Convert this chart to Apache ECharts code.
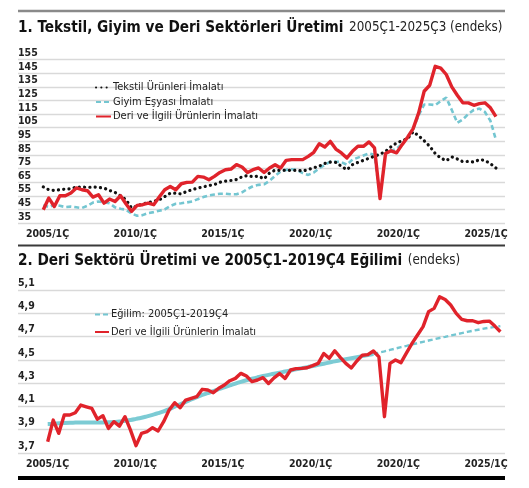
<!DOCTYPE html>
<html>
<head>
<meta charset="utf-8">
<script src="https://cdn.jsdelivr.net/npm/echarts@6/dist/echarts.min.js"></script>
<style>
html,body{margin:0;padding:0;background:#fff;}
#chart{width:529px;height:488px;}
</style>
</head>
<body>
<div id="chart"></div>
<script>
// ---- categories (quarters 2005Ç1 .. 2025Ç3) ----
const quarters = [];
for (let y = 2005; y <= 2025; y++) for (let q = 1; q <= 4; q++) { if (y === 2025 && q > 3) break; quarters.push(y + 'Ç' + q); }

// ---- tick labels shown under both panels (as printed in the original) ----
const xTickLabels = ['2005/1Ç', '2010/1Ç', '2015/1Ç', '2020/1Ç', '2020/1Ç', '2025/1Ç'];

// ---- Panel 1 series (index) ----
const tekstil = [61.5,59.4,58.9,59.4,59.9,60.1,61.4,61.4,61.1,61.4,61.1,60.6,58.9,57.4,55,52,46,47.5,49,50,51,52,54.4,56.9,56.9,56.3,58.2,59.5,60.7,61.5,62.5,63.2,64.9,65.7,66.2,66.9,68.9,69.9,68.9,69.4,67.4,71.8,73.8,73.5,73.8,73.5,73.8,73.1,74.3,75.5,76.8,78.7,79.7,79.5,76.6,74.1,77.8,79.5,81,82.5,84,85.5,87.6,91,93.7,95.4,96.9,102,99,95.4,91.3,86,82.7,80.7,83.5,82,80,80.2,79.7,81.5,81,78.5,75.3];
const giyim = [48,46.7,48.4,47.6,46.7,47,46.5,46,47.6,50,50.8,50.1,49.5,46.5,45.5,44.7,42,40.3,40.8,42.3,43,44,45,47.5,49.1,49.5,50.1,50.8,52.5,54,55.2,55.9,56.5,56.5,56.1,56.1,57.5,60,62,63,63.4,66,69.6,72.8,74,74.5,74,71.6,70.3,72,75.2,77.7,80.1,80,79.7,77.8,81.5,83,84.5,86,85,54,86,88,89.5,93,98,104,114,122,122,121.5,124.5,127,118,108.5,111,115,118,119,116.5,110,96];
const deri = [44.7,53.3,47.1,55,55,57,60.7,59.4,58.7,54,55.7,49.6,52.6,50.8,55,48.9,43.5,47.9,48.4,49.6,48.4,54,59.4,61.8,59.4,63.8,64.8,65,69.2,68.7,66.8,69.2,72.1,74.1,74.6,77.8,76.1,72.1,74.1,75.4,72.1,75.4,77.8,75.4,81,81.5,81.5,81.5,83.9,86.9,93.2,90.8,94.9,89.3,86.4,82.7,87.6,91.3,91.3,94.5,90.1,53,86,88,86.5,92.5,98,104.3,115.8,131.7,136.1,150,148.7,144,134.9,128.8,123.2,123.2,121.4,122.6,123.2,119.5,113];

// ---- Panel 2 series (log index) ----
const deriLog = [3.797,3.983,3.869,4.026,4.026,4.046,4.112,4.097,4.083,3.991,4.02,3.911,3.969,3.931,4.012,3.897,3.763,3.869,3.883,3.917,3.889,3.969,4.069,4.132,4.089,4.155,4.17,4.184,4.247,4.241,4.218,4.256,4.284,4.321,4.341,4.384,4.361,4.313,4.327,4.347,4.297,4.345,4.382,4.34,4.413,4.425,4.427,4.432,4.45,4.47,4.555,4.513,4.578,4.522,4.47,4.43,4.49,4.54,4.545,4.576,4.525,4.012,4.47,4.499,4.476,4.56,4.642,4.713,4.785,4.914,4.942,5.042,5.019,4.971,4.899,4.848,4.836,4.836,4.819,4.83,4.833,4.79,4.742];
// trend fitted over 2005Ç1-2019Ç4 (index 0..59)
const trendFit = [3.950,3.952,3.955,3.958,3.960,3.961,3.962,3.962,3.962,3.962,3.963,3.964,3.966,3.970,3.977,3.984,3.993,4.003,4.015,4.028,4.042,4.058,4.077,4.098,4.118,4.139,4.160,4.180,4.199,4.215,4.231,4.248,4.264,4.280,4.296,4.311,4.325,4.338,4.350,4.361,4.371,4.381,4.390,4.400,4.409,4.418,4.428,4.437,4.447,4.457,4.467,4.477,4.487,4.496,4.505,4.514,4.523,4.532,4.541,4.550];
// trend extension 2019Ç4 .. 2025Ç3 (index 59..82)
const trendExt = [4.550,4.562,4.573,4.585,4.597,4.609,4.620,4.632,4.644,4.655,4.666,4.677,4.688,4.698,4.709,4.719,4.730,4.740,4.750,4.759,4.768,4.776,4.783,4.790];

const FONT = "'Liberation Sans Narrow','DejaVu Sans Condensed','Roboto Condensed',sans-serif";
const RED = '#e0232b', CYAN = '#74c6d1', BLACK = '#111111', GRID = '#d9d9d9';

const pairs = (arr, off) => arr.map((v, i) => [i + (off || 0), v]);

const chart = echarts.init(document.getElementById('chart'), null, {renderer: 'canvas'});

const labelAxis = (gi) => ({
  type: 'category', gridIndex: gi, data: xTickLabels, boundaryGap: false,
  axisLine: {show: false}, axisTick: {show: false}, splitLine: {show: false},
  axisLabel: {show: true, interval: 0, margin: 6, color: '#222', fontFamily: FONT, fontWeight: 'bold', fontSize: 10.5}
});
const hiddenY = (gi) => ({type: 'value', gridIndex: gi, show: false});

const titleRich = {
  b: {fontFamily: FONT, fontWeight: 'bold', fontSize: 15.2, color: '#111', lineHeight: 20},
  r: {fontFamily: FONT, fontWeight: 'normal', fontSize: 13.3, color: '#222', lineHeight: 20}
};

chart.setOption({
  animation: false,
  backgroundColor: '#fff',
  textStyle: {fontFamily: FONT},
  title: [
    {left: 18, top: 18, padding: 0,
      text: '{b|1. Tekstil, Giyim ve Deri Sektörleri Üretimi} {r|2005Ç1-2025Ç3 (endeks)}',
      textStyle: {rich: titleRich}},
    {left: 18, top: 251, padding: 0,
      text: '{b|2. Deri Sektörü Üretimi ve 2005Ç1-2019Ç4 Eğilimi} {r|(endeks)}',
      textStyle: {rich: titleRich}}
  ],
  legend: [
    {
      orient: 'vertical', left: 95, top: 82, padding: 0, itemGap: 3.5, itemWidth: 15, itemHeight: 11,
      itemStyle: {opacity: 0},
      data: ['Tekstil Ürünleri İmalatı', 'Giyim Eşyası İmalatı', 'Deri ve İlgili Ürünlerin İmalatı'],
      textStyle: {fontFamily: FONT, fontSize: 11, color: '#222', padding: [0, 0, 0, -3]}
    },
    {
      orient: 'vertical', left: 94, top: 309, padding: 0, itemGap: 6.5, itemWidth: 14, itemHeight: 11,
      itemStyle: {opacity: 0},
      data: ['Eğilim: 2005Ç1-2019Ç4', 'Deri ve İlgili Ürünlerin İmalatı '],
      textStyle: {fontFamily: FONT, fontSize: 11, color: '#222', padding: [0, 0, 0, -3]}
    }
  ],
  grid: [
    {left: 18, right: 24, top: 59.5, bottom: 265},
    {left: 18, right: 24, top: 290, bottom: 35},
    {left: 47.5, right: 43, top: 200, bottom: 265},
    {left: 47.5, right: 43, top: 430, bottom: 35}
  ],
  xAxis: [
    {type: 'value', gridIndex: 0, min: -4.58, max: 83.64, show: false},
    {type: 'value', gridIndex: 1, min: -5.38, max: 82.84, show: false},
    labelAxis(2),
    labelAxis(3)
  ],
  yAxis: [
    {
      type: 'value', gridIndex: 0, min: 35, max: 155, interval: 10,
      axisLine: {show: false}, axisTick: {show: false},
      splitLine: {show: true, lineStyle: {color: GRID, width: 1.3}},
      axisLabel: {inside: true, margin: 0, align: 'left', verticalAlign: 'bottom', lineHeight: 12,
        color: '#222', fontFamily: FONT, fontWeight: 'bold', fontSize: 10.5, showMinLabel: true, showMaxLabel: true}
    },
    {
      type: 'value', gridIndex: 1, min: 3.7, max: 5.1, interval: 0.2,
      axisLine: {show: false}, axisTick: {show: false},
      splitLine: {show: true, lineStyle: {color: GRID, width: 1.3}},
      axisLabel: {inside: true, margin: 0, align: 'left', verticalAlign: 'bottom', lineHeight: 14,
        color: '#222', fontFamily: FONT, fontWeight: 'bold', fontSize: 10.5, showMinLabel: true, showMaxLabel: true,
        formatter: v => v.toFixed(1).replace('.', ',')}
    },
    hiddenY(2),
    hiddenY(3)
  ],
  series: [
    {
      name: 'Giyim Eşyası İmalatı', type: 'line', xAxisIndex: 0, yAxisIndex: 0, data: pairs(giyim),
      symbol: 'none', z: 2, color: CYAN,
      lineStyle: {color: CYAN, width: 2.6, type: [5, 3]}
    },
    {
      name: 'Tekstil Ürünleri İmalatı', type: 'line', xAxisIndex: 0, yAxisIndex: 0, data: pairs(tekstil),
      symbol: 'none', z: 3, color: BLACK,
      lineStyle: {color: BLACK, width: 3.2, type: [0.1, 5.2], cap: 'round'}
    },
    {
      name: 'Deri ve İlgili Ürünlerin İmalatı', type: 'line', xAxisIndex: 0, yAxisIndex: 0, data: pairs(deri),
      symbol: 'none', z: 4, color: RED,
      lineStyle: {color: RED, width: 3.4, join: 'round'}
    },
    {
      name: 'Eğilim: 2005Ç1-2019Ç4', type: 'line', xAxisIndex: 1, yAxisIndex: 1, data: pairs(trendExt, 59),
      symbol: 'none', z: 2, color: CYAN,
      lineStyle: {color: CYAN, width: 2.4, type: [5, 3]}
    },
    {
      name: 'Eğilim (2005Ç1-2019Ç4 dönemi)', type: 'line', xAxisIndex: 1, yAxisIndex: 1, data: pairs(trendFit),
      symbol: 'none', z: 2, color: CYAN, smooth: true,
      lineStyle: {color: '#7ccbd4', width: 4}
    },
    {
      name: 'Deri ve İlgili Ürünlerin İmalatı ', type: 'line', xAxisIndex: 1, yAxisIndex: 1, data: pairs(deriLog),
      symbol: 'none', z: 4, color: RED,
      lineStyle: {color: RED, width: 3.4, join: 'round'}
    },
    {type: 'line', xAxisIndex: 2, yAxisIndex: 2, data: [], silent: true},
    {type: 'line', xAxisIndex: 3, yAxisIndex: 3, data: [], silent: true}
  ],
  graphic: [
    {type: 'line', silent: true, shape: {x1: 18, y1: 11, x2: 505, y2: 11}, style: {stroke: '#8a8a8a', lineWidth: 2.5}},
    {type: 'line', silent: true, shape: {x1: 18, y1: 245.5, x2: 505, y2: 245.5}, style: {stroke: '#3a3a3a', lineWidth: 2}},
    {type: 'line', silent: true, shape: {x1: 18, y1: 478, x2: 505, y2: 478}, style: {stroke: '#000', lineWidth: 4}}
  ]
});
</script>
</body>
</html>
